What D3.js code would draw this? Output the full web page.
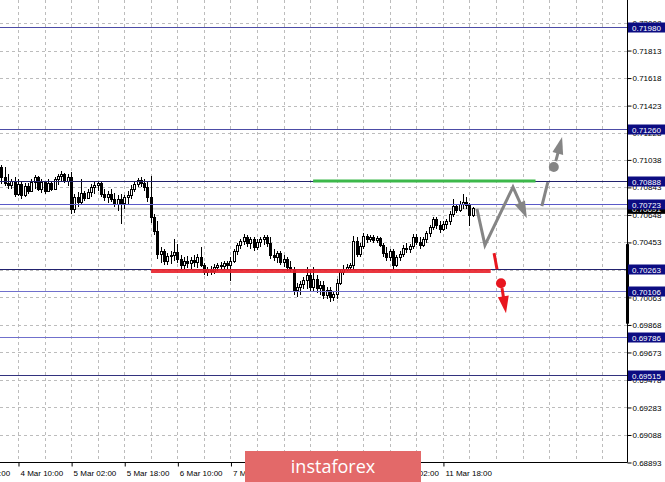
<!DOCTYPE html>
<html><head><meta charset="utf-8">
<script src="https://cdn.jsdelivr.net/npm/d3@7"></script>
<style>html,body{margin:0;padding:0;background:#fff;overflow:hidden}svg{display:block}</style>
</head><body>
<svg id="c" width="665" height="482"></svg>
<script>
// ---------------- DATA ----------------
const opens=[0.70985,0.70914,0.70872,0.70858,0.70886,0.70794,0.70865,0.70787,0.70851,0.70815,
0.70879,0.70914,0.70829,0.70879,0.70815,0.70872,0.70829,0.70900,0.70921,0.70935,
0.70886,0.70914,0.70688,0.70773,0.70737,0.70801,0.70766,0.70808,0.70843,0.70858,
0.70872,0.70794,0.70773,0.70794,0.70759,0.70723,0.70759,0.70730,0.70773,0.70787,
0.70829,0.70865,0.70893,0.70872,0.70843,0.70773,0.70632,0.70533,0.70370,0.70391,
0.70321,0.70356,0.70363,0.70384,0.70335,0.70292,0.70321,0.70306,0.70328,0.70313,
0.70349,0.70292,0.70243,0.70264,0.70250,0.70278,0.70292,0.70285,0.70306,0.70292,
0.70321,0.70391,0.70434,0.70462,0.70490,0.70448,0.70476,0.70419,0.70455,0.70476,
0.70490,0.70448,0.70363,0.70349,0.70377,0.70313,0.70335,0.70278,0.70264,0.70109,
0.70137,0.70158,0.70186,0.70222,0.70137,0.70193,0.70123,0.70151,0.70080,0.70109,
0.70066,0.70087,0.70165,0.70243,0.70264,0.70278,0.70292,0.70462,0.70370,0.70427,
0.70497,0.70476,0.70490,0.70469,0.70483,0.70434,0.70377,0.70349,0.70391,0.70292,
0.70349,0.70370,0.70412,0.70405,0.70427,0.70490,0.70455,0.70434,0.70476,0.70518,
0.70561,0.70617,0.70575,0.70547,0.70582,0.70603,0.70653,0.70709,0.70681,0.70723,
0.70737,0.70716,0.70646];
const highs=[0.70999,0.70985,0.70935,0.70900,0.70914,0.70900,0.70886,0.70872,0.70872,0.70900,
0.70928,0.70921,0.70900,0.70886,0.70900,0.70886,0.70914,0.70935,0.70957,0.70942,
0.70935,0.70949,0.70794,0.70808,0.70900,0.70815,0.70829,0.70865,0.70879,0.70886,
0.70879,0.70829,0.70815,0.70829,0.70801,0.70787,0.70794,0.70787,0.70815,0.70858,
0.70886,0.70907,0.70914,0.70900,0.70879,0.70921,0.70653,0.70603,0.70419,0.70405,
0.70377,0.70391,0.70476,0.70441,0.70363,0.70349,0.70356,0.70349,0.70363,0.70370,
0.70419,0.70306,0.70278,0.70285,0.70299,0.70306,0.70313,0.70321,0.70321,0.70349,
0.70405,0.70448,0.70476,0.70511,0.70504,0.70490,0.70490,0.70476,0.70490,0.70504,
0.70504,0.70490,0.70405,0.70391,0.70391,0.70363,0.70349,0.70321,0.70278,0.70165,
0.70179,0.70208,0.70278,0.70264,0.70278,0.70222,0.70179,0.70179,0.70137,0.70137,
0.70109,0.70193,0.70264,0.70292,0.70299,0.70306,0.70497,0.70490,0.70448,0.70518,
0.70511,0.70504,0.70504,0.70497,0.70490,0.70448,0.70419,0.70405,0.70405,0.70363,
0.70391,0.70434,0.70448,0.70441,0.70511,0.70511,0.70490,0.70490,0.70533,0.70575,
0.70632,0.70632,0.70603,0.70603,0.70617,0.70674,0.70759,0.70723,0.70745,0.70794,
0.70773,0.70730,0.70702];
const lows=[0.70865,0.70851,0.70829,0.70829,0.70773,0.70780,0.70759,0.70773,0.70794,0.70808,
0.70829,0.70815,0.70801,0.70794,0.70808,0.70815,0.70822,0.70858,0.70879,0.70872,
0.70851,0.70653,0.70660,0.70702,0.70723,0.70745,0.70759,0.70773,0.70794,0.70815,
0.70773,0.70745,0.70730,0.70737,0.70702,0.70674,0.70582,0.70688,0.70723,0.70759,
0.70808,0.70843,0.70843,0.70815,0.70737,0.70589,0.70504,0.70335,0.70306,0.70292,
0.70292,0.70299,0.70321,0.70306,0.70264,0.70264,0.70271,0.70264,0.70278,0.70271,
0.70278,0.70222,0.70215,0.70222,0.70229,0.70250,0.70257,0.70264,0.70264,0.70179,
0.70306,0.70363,0.70405,0.70434,0.70419,0.70405,0.70391,0.70398,0.70419,0.70434,
0.70419,0.70335,0.70321,0.70306,0.70292,0.70278,0.70250,0.70243,0.70080,0.70066,
0.70080,0.70123,0.70123,0.70109,0.70109,0.70094,0.70080,0.70052,0.70052,0.70031,
0.70038,0.70052,0.70151,0.70222,0.70250,0.70257,0.70264,0.70349,0.70349,0.70405,
0.70448,0.70455,0.70448,0.70448,0.70419,0.70349,0.70321,0.70321,0.70264,0.70278,
0.70321,0.70349,0.70377,0.70377,0.70405,0.70434,0.70405,0.70419,0.70448,0.70490,
0.70540,0.70547,0.70518,0.70533,0.70547,0.70575,0.70632,0.70660,0.70667,0.70688,
0.70688,0.70568,0.70632];
const closes=[0.70914,0.70872,0.70858,0.70886,0.70794,0.70865,0.70787,0.70851,0.70815,0.70879,
0.70914,0.70829,0.70879,0.70815,0.70872,0.70829,0.70900,0.70921,0.70935,0.70886,
0.70914,0.70688,0.70773,0.70737,0.70801,0.70766,0.70808,0.70843,0.70858,0.70872,
0.70794,0.70773,0.70794,0.70759,0.70723,0.70759,0.70730,0.70773,0.70787,0.70829,
0.70865,0.70893,0.70872,0.70843,0.70773,0.70632,0.70533,0.70370,0.70391,0.70321,
0.70356,0.70363,0.70384,0.70335,0.70292,0.70321,0.70306,0.70328,0.70313,0.70349,
0.70292,0.70243,0.70264,0.70250,0.70278,0.70292,0.70285,0.70306,0.70292,0.70321,
0.70391,0.70434,0.70462,0.70490,0.70448,0.70476,0.70419,0.70455,0.70476,0.70490,
0.70448,0.70363,0.70349,0.70377,0.70313,0.70335,0.70278,0.70264,0.70109,0.70137,
0.70158,0.70186,0.70222,0.70137,0.70193,0.70123,0.70151,0.70080,0.70109,0.70066,
0.70087,0.70165,0.70243,0.70264,0.70278,0.70292,0.70462,0.70370,0.70427,0.70497,
0.70476,0.70490,0.70469,0.70483,0.70434,0.70377,0.70349,0.70391,0.70292,0.70349,
0.70370,0.70412,0.70405,0.70427,0.70490,0.70455,0.70434,0.70476,0.70518,0.70561,
0.70617,0.70575,0.70547,0.70582,0.70603,0.70653,0.70709,0.70681,0.70723,0.70737,
0.70716,0.70646,0.70691];

const timeLabels=["1 Mar 18:00","4 Mar 10:00","5 Mar 02:00","5 Mar 18:00","6 Mar 10:00","7 Mar 02:00","7 Mar 18:00","8 Mar 10:00","11 Mar 02:00","11 Mar 18:00"];
const timeLabelBars=[-11,5,21,37,53,69,85,101,117,133];
const gridBars=[5,13,21,29,37,45,53,61,69,77,85,93,101,109,117,125,133,141,149,157,165,173,181];
const priceTicks=[0.72008,0.71813,0.71618,0.71423,0.71228,0.71038,0.70843,0.70648,0.70453,0.70258,0.70063,0.69868,0.69673,0.69478,0.69283,0.69088,0.68893];
const levelPrices=[0.71980,0.71260,0.70888,0.70723,0.70263,0.70106,0.69786,0.69515];
const currentPrice=0.70691;
const resistanceLine={from:93.9,to:160.9,price:0.70888};
const supportLine={from:45.1,to:147.4,price:0.70250};
const grayZigzag=[[143.25,0.70691],[145.66,0.70434],[154.1,0.70845],[158.3,0.70625]];
const grayUpDash=[[162.8,0.70710],[164.6,0.70880]];
const grayUpDot=[166.4,0.70987];
const grayUpArrow=[[167.0,0.71029],[168.9,0.71200]];
const redDash=[[148.4,0.70377],[149.3,0.70263]];
const redDot=[150.5,0.70164];
const redArrow=[[150.8,0.70129],[152.0,0.69951]];
const axisBar=[0.70441,0.69877];

// ---------------- STYLES / LAYOUT ----------------
const W=665,H=482,plotR=627,plotB=462.5;
const levelColors=["#4c4ca6","#4c4ca6","#22226e","#5a5ac8","#22226e","#7070cc","#7070cc","#32327e"];
const FONT="'Liberation Sans', Arial, sans-serif";

const svg=d3.select("#c");
const X=d3.scaleLinear().domain([0,142]).range([1.4,472.8]);
const Y=d3.scaleLinear().domain([0.68893,0.71980]).range([plotB,27]);

svg.append("rect").attr("width",W).attr("height",H).attr("fill","#fff");
const defs=svg.append("defs");
defs.append("clipPath").attr("id","plot").append("rect").attr("x",0).attr("y",0).attr("width",plotR).attr("height",plotB);
const plot=svg.append("g").attr("clip-path","url(#plot)");

// grid
plot.append("g").selectAll("line").data(gridBars).join("line")
 .attr("x1",d=>Math.round(X(d))+0.5).attr("x2",d=>Math.round(X(d))+0.5)
 .attr("y1",0).attr("y2",plotB)
 .attr("stroke","#bcbcbc").attr("stroke-dasharray","3,3").attr("stroke-width",1);
plot.append("g").selectAll("line").data(priceTicks).join("line")
 .attr("x1",0).attr("x2",plotR)
 .attr("y1",d=>Math.round(Y(d))+0.5).attr("y2",d=>Math.round(Y(d))+0.5)
 .attr("stroke","#bcbcbc").attr("stroke-dasharray","3,3").attr("stroke-width",1);

// current price line
plot.append("line").attr("x1",0).attr("x2",plotR)
 .attr("y1",Y(currentPrice)).attr("y2",Y(currentPrice))
 .attr("stroke","#d2d2d2").attr("stroke-width",2);

// candles
const bars=d3.range(opens.length).map(i=>({i,o:opens[i],h:highs[i],l:lows[i],c:closes[i]}));
const cg=plot.append("g").attr("shape-rendering","crispEdges");
cg.selectAll("line").data(bars).join("line")
 .attr("x1",d=>Math.round(X(d.i))+0.5).attr("x2",d=>Math.round(X(d.i))+0.5)
 .attr("y1",d=>Y(d.h)).attr("y2",d=>Y(d.l)).attr("stroke","#000").attr("stroke-width",1);
cg.selectAll("rect").data(bars).join("rect")
 .attr("x",d=>Math.round(X(d.i))-0.5).attr("width",2)
 .attr("y",d=>Y(Math.max(d.o,d.c)))
 .attr("height",d=>Math.max(1,Math.abs(Y(d.o)-Y(d.c))))
 .attr("fill",d=>d.c>=d.o?"#fff":"#000").attr("stroke","#000").attr("stroke-width",1);

// level lines
plot.append("g").selectAll("line").data(levelPrices).join("line")
 .attr("x1",0).attr("x2",plotR)
 .attr("y1",d=>Math.round(Y(d))+0.5).attr("y2",d=>Math.round(Y(d))+0.5)
 .attr("stroke",(d,i)=>levelColors[i]).attr("stroke-width",1);

// resistance / support lines
plot.append("line").attr("x1",X(resistanceLine.from)).attr("x2",X(resistanceLine.to))
 .attr("y1",Y(resistanceLine.price)).attr("y2",Y(resistanceLine.price))
 .attr("stroke","#3cb84a").attr("stroke-width",3);
plot.append("line").attr("x1",X(supportLine.from)).attr("x2",X(supportLine.to))
 .attr("y1",Y(supportLine.price)).attr("y2",Y(supportLine.price))
 .attr("stroke","#e8202a").attr("stroke-opacity",0.9).attr("stroke-width",4);

// arrows
function head(p1,p2,len,hw){
 const dx=p2[0]-p1[0],dy=p2[1]-p1[1],L=Math.hypot(dx,dy),ux=dx/L,uy=dy/L;
 const bx=p2[0]-ux*len,by=p2[1]-uy*len;
 return {base:[bx+ux*2,by+uy*2],tri:[[p2[0],p2[1]],[bx-uy*hw,by+ux*hw],[bx+uy*hw,by-ux*hw]]};
}
const P=d=>[X(d[0]),Y(d[1])];
const line=d3.line();
function arrowPath(points,color){
 const pts=points.map(P);
 const hd=head(pts[pts.length-2],pts[pts.length-1],17,5.5);
 const shaft=pts.slice(0,-1).concat([hd.base]);
 plot.append("path").attr("d",line(shaft)).attr("fill","none").attr("stroke",color)
  .attr("stroke-width",3).attr("stroke-linejoin","miter");
 plot.append("path").attr("d",line(hd.tri)+"Z").attr("fill",color);
}
const GRAY="#858585",RED="#e8161f";
arrowPath(grayZigzag,GRAY);
plot.append("path").attr("d",line(grayUpDash.map(P))).attr("stroke",GRAY).attr("stroke-width",3).attr("fill","none");
plot.append("circle").attr("cx",X(grayUpDot[0])).attr("cy",Y(grayUpDot[1])).attr("r",5).attr("fill",GRAY);
arrowPath(grayUpArrow,GRAY);
plot.append("path").attr("d",line(redDash.map(P))).attr("stroke",RED).attr("stroke-width",3).attr("fill","none");
plot.append("circle").attr("cx",X(redDot[0])).attr("cy",Y(redDot[1])).attr("r",5).attr("fill",RED);
arrowPath(redArrow,RED);

// axes
const ay=svg.append("g").attr("transform",`translate(${plotR+0.5},0)`)
 .call(d3.axisRight(Y).tickValues(priceTicks).tickSize(4).tickPadding(1).tickFormat(d3.format(".5f")));
ay.select(".domain").remove();
ay.selectAll("text").attr("font-family",FONT).attr("font-size","8px").attr("fill","#000");
ay.selectAll("line").attr("stroke","#000");

const ax=svg.append("g").attr("transform",`translate(0,${plotB})`)
 .call(d3.axisBottom(X).tickValues(timeLabelBars).tickSize(4).tickFormat((d,i)=>timeLabels[i]));
ax.select(".domain").remove();
ax.selectAll(".tick line").attr("stroke","#000").attr("transform","translate(0.5,0)");
ax.selectAll("text").attr("font-family",FONT).attr("font-size","8px").attr("fill","#000")
 .attr("text-anchor","start").attr("x",2).attr("y",8);

svg.append("line").attr("x1",plotR+0.5).attr("x2",plotR+0.5).attr("y1",0).attr("y2",plotB).attr("stroke","#000");
svg.append("line").attr("x1",0).attr("x2",plotR+0.5).attr("y1",plotB).attr("y2",plotB).attr("stroke","#000");
svg.append("rect").attr("x",plotR-1).attr("width",3).attr("y",Y(axisBar[0])).attr("height",Y(axisBar[1])-Y(axisBar[0])).attr("fill","#000");

// current price box
const cp=svg.append("g");
cp.append("rect").attr("x",plotR+1).attr("y",Y(currentPrice)-5).attr("width",W-plotR-1).attr("height",10).attr("fill","#000");
cp.append("text").attr("x",plotR+5).attr("y",Y(currentPrice)+3).text(d3.format(".5f")(currentPrice))
 .attr("font-family",FONT).attr("font-size","8px").attr("fill","#fff");

// level boxes
const lb=svg.append("g").selectAll("g").data(levelPrices).join("g");
lb.append("rect").attr("x",plotR+1).attr("y",d=>Math.round(Y(d))-4.5).attr("width",W-plotR-1).attr("height",10).attr("fill","#0c0c82");
lb.append("text").attr("x",plotR+5).attr("y",d=>Math.round(Y(d))+3.5).text(d=>d3.format(".5f")(d))
 .attr("font-family",FONT).attr("font-size","8px").attr("fill","#fff");

// watermark
svg.append("rect").attr("x",245).attr("y",451).attr("width",176).attr("height",32).attr("fill","#e36969");
svg.append("text").attr("x",333).attr("y",473).attr("text-anchor","middle").text("instaforex")
 .attr("font-family","'Open Sans', sans-serif").attr("font-size","18px").attr("fill","#fff");
</script>
</body></html>
